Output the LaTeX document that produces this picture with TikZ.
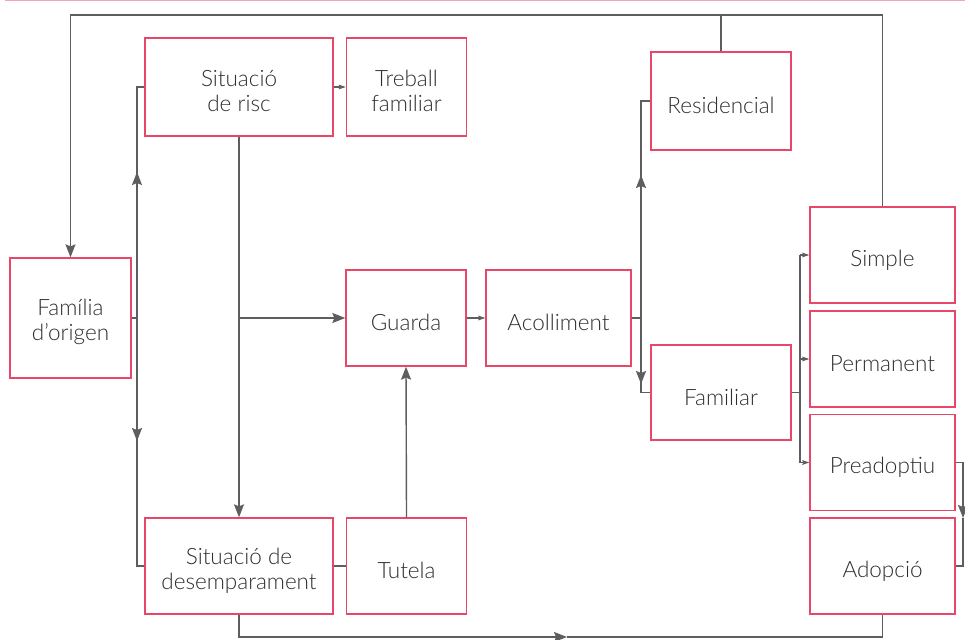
\documentclass[tikz,border=0pt]{standalone}
\usepackage{fontspec}
\setmainfont{Lato}[UprightFont=* Light]
\usepackage{xcolor}
\usetikzlibrary{arrows.meta, positioning}

\definecolor{boxred}{HTML}{E8476A}
\definecolor{linegrey}{HTML}{5E5E5E}
\definecolor{txtgrey}{HTML}{2E2E2E}
\definecolor{toppink}{HTML}{F2A6B6}

\newcommand{\firstln}{\rule{0pt}{25pt}}

\tikzset{
    box/.style={draw=boxred, fill=white, line width=1.3pt, text=txtgrey, align=center,
        inner sep=0pt, minimum height=96pt, font=\fontsize{22.5}{25}\selectfont,
        execute at begin node={\rule{0pt}{26pt}}},
    conn/.style={draw=linegrey, line width=1.4pt},
    bigtip/.tip={Stealth[length=13pt, width=10pt, inset=2pt]},
    smalltip/.tip={Stealth[length=7pt, width=4.5pt, inset=1pt]}
}

\begin{document}
\begin{tikzpicture}[x=1pt, y=-1pt]
    \useasboundingbox (0,0) rectangle (965,639);
    \draw[toppink, line width=1.5pt] (5,0.75) -- (965,0.75);

    % boxes
    \node[box, minimum width=121pt, minimum height=120pt] (famo) at (70.5,318) {\firstln Família\\d’origen};
    \node[box, minimum width=188pt, minimum height=98pt] (risc) at (239,87) {\firstln Situació\\de risc};
    \node[box, minimum width=120pt, minimum height=98pt] (treb) at (406.5,87) {\firstln Treball\\familiar};
    \node[box, minimum width=188pt] (desemp) at (239,566) {\firstln Situació de\\desemparament};
    \node[box, minimum width=120pt] (tutela) at (406.5,566) {Tutela};
    \node[box, minimum width=120pt] (guarda) at (406,318) {Guarda};
    \node[box, minimum width=145pt] (acoll) at (558.5,318) {Acolliment};
    \node[box, minimum width=140pt, minimum height=98pt] (resid) at (721,101) {Residencial};
    \node[box, minimum width=140pt, minimum height=95pt] (famil) at (721,392.5) {Familiar};
    \node[box, minimum width=145pt] (simple) at (882.5,255) {Simple};
    \node[box, minimum width=145pt] (perm) at (882.5,359) {Permanent};
    \node[box, minimum width=145pt] (pread) at (882.5,462.5) {Preadoptiu};
    \node[box, minimum width=145pt] (adop) at (882.5,566) {Adopció};

    \coordinate (topy) at (0,15);
    \coordinate (boty) at (0,637);
    \coordinate (lbus) at (137,0);
    \coordinate (mbus) at (641,0);
    \coordinate (rbus) at (800,0);
    \coordinate (fbus) at (963,0);

    % top and bottom loops
    \draw[conn, -{bigtip}] (simple.north) -- (simple.north |- topy) -| (famo.north);
    \draw[conn] (resid.north) -- (resid.north |- topy);
    \coordinate (midb) at (567,637);
    \draw[conn, -{bigtip}] (desemp.south) |- (midb);
    \draw[conn] (midb) -| (adop.south);

    % left side
    \draw[conn] (risc.west) -- (risc.west -| lbus) -- (desemp.west -| lbus) -- (desemp.west);
    \draw[conn] (famo.east) -- (famo.east -| lbus);
    \draw[conn, -{bigtip}] (famo.east -| lbus) -- (137,172);
    \draw[conn, -{bigtip}] (famo.east -| lbus) -- (137,441);
    \draw[conn, -{smalltip}] (risc.east) -- (treb.west);
    \draw[conn, -{bigtip}] (risc.south) -- (desemp.north);
    \draw[conn, -{bigtip}] (risc.south |- guarda.west) -- (guarda.west);
    \draw[conn] (desemp.east) -- (tutela.west);
    \draw[conn, -{bigtip}] (tutela.north) -- (guarda.south);
    \draw[conn, -{smalltip}] (guarda.east) -- (acoll.west);

    % acolliment
    \draw[conn] (resid.west) -- (resid.west -| mbus) -- (famil.west -| mbus) -- (famil.west);
    \draw[conn] (acoll.east) -- (acoll.east -| mbus);
    \draw[conn, -{bigtip}] (acoll.east -| mbus) -- (641,175);
    \draw[conn, -{bigtip}] (acoll.east -| mbus) -- (641,384);

    % familiar
    \draw[conn] (famil.east) -- (famil.east -| rbus);
    \draw[conn] (simple.west -| rbus) -- (pread.west -| rbus);
    \draw[conn, -{smalltip}] (simple.west -| rbus) -- (simple.west);
    \draw[conn, -{smalltip}] (perm.west -| rbus) -- (perm.west);
    \draw[conn, -{smalltip}] (pread.west -| rbus) -- (pread.west);
    \draw[conn] (pread.east) -- (pread.east -| fbus) -- (963,505);
    \draw[conn, -{bigtip}] (963,505) -- (963,518);
    \draw[conn] (963,518) -- (adop.east -| fbus) -- (adop.east);
\end{tikzpicture}
\end{document}
